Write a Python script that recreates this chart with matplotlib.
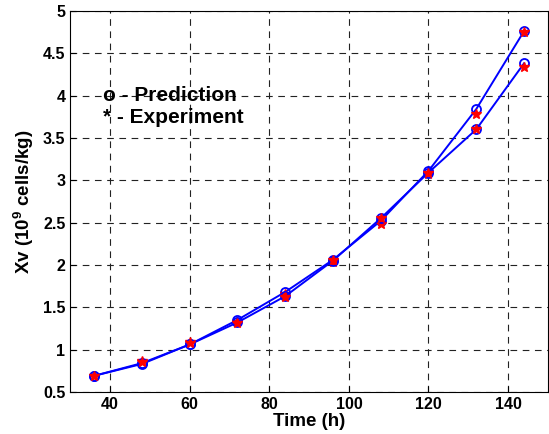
import matplotlib
matplotlib.use('Agg')
import matplotlib.pyplot as plt

plt.rcParams['font.family'] = ['Liberation Sans', 'DejaVu Sans']
plt.rcParams['font.weight'] = 'bold'
plt.rcParams['mathtext.fontset'] = 'custom'
plt.rcParams['mathtext.bf'] = 'Liberation Sans:bold'
plt.rcParams['mathtext.rm'] = 'Liberation Sans:bold'
plt.rcParams['mathtext.default'] = 'bf'

# Datos
tiempo = [36, 48, 60, 72, 84, 96, 108, 120, 132, 144]
pred_1 = [0.69, 0.83, 1.06, 1.35, 1.68, 2.06, 2.52, 3.11, 3.84, 4.76]
pred_2 = [0.69, 0.84, 1.06, 1.32, 1.63, 2.05, 2.55, 3.09, 3.60, 4.38]
exp_1 = [0.69, 0.86, 1.09, 1.33, 1.66, 2.03, 2.48, 3.07, 3.78, 4.75]
exp_2 = [0.69, 0.85, 1.08, 1.31, 1.62, 2.06, 2.55, 3.08, 3.60, 4.34]

fig = plt.figure(figsize=(5.49, 4.34), dpi=100)
ax = fig.add_axes([0.128, 0.097, 0.870, 0.878])

for pred, exp in [(pred_1, exp_1), (pred_2, exp_2)]:
    ax.plot(tiempo, pred, '-', color='blue', lw=1.4)
    ax.plot(tiempo, pred, 'o', mfc='none', mec='blue', ms=6.5, mew=1.3)
    ax.plot(tiempo, exp, '*', color='red', ms=7, mew=1.0)

ax.set_xlim(30, 150)
ax.set_ylim(0.5, 5)
ax.set_xticks([40, 60, 80, 100, 120, 140])
ax.set_yticks([0.5, 1, 1.5, 2, 2.5, 3, 3.5, 4, 4.5, 5])
ax.set_yticklabels(['0.5', '1', '1.5', '2', '2.5', '3', '3.5', '4', '4.5', '5'])
ax.tick_params(direction='in', labelsize=11.5, length=4)
ax.grid(True, color='#222222', linestyle=(0, (6, 5)), lw=0.8)

ax.text(38.3, 4.0, 'o - Prediction', fontsize=15, fontweight='bold', va='center')
ax.text(38.3, 3.74, '* - Experiment', fontsize=15, fontweight='bold', va='center')

ax.set_xlabel('Time (h)', fontsize=13.5, fontweight='bold', labelpad=1)
ax.set_ylabel(r'Xv (10$^{9}$ cells/kg)', fontsize=13.5, fontweight='bold', labelpad=5)

fig.savefig('out.png', dpi=100)
